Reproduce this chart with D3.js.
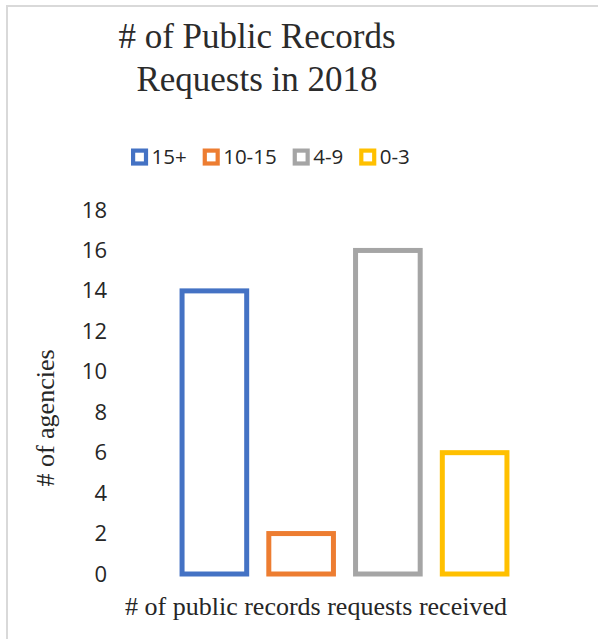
<!DOCTYPE html>
<html>
<head>
<meta charset="utf-8">
<script src="https://cdn.jsdelivr.net/npm/d3@7"></script>
<style>
  html, body { margin: 0; padding: 0; background: #fff; }
  svg { display: block; }
</style>
</head>
<body>
<svg id="chart" width="598" height="639"></svg>
<script>
// Agencies grouped by how many public records requests they received in 2018
const categories = ["15+", "10-15", "4-9", "0-3"];
const agencies = [14, 2, 16, 6];
const colors = ["#4472C4", "#ED7D31", "#A5A5A5", "#FFC000"];
const yTicks = [0, 2, 4, 6, 8, 10, 12, 14, 16, 18];

const svg = d3.select("#chart");
const W = 598, H = 639;
const textColor = "#262626";
const sansFont = "'Open Sans', 'Liberation Sans', sans-serif";
const serifFont = "'Liberation Serif', 'Times New Roman', serif";

// Chart frame
svg.append("rect")
  .attr("x", 7).attr("y", 6)
  .attr("width", W + 10).attr("height", H + 10)
  .attr("fill", "#fff")
  .attr("stroke", "#d9d9d9").attr("stroke-width", 2);

// Title
const title = svg.append("text")
  .attr("text-anchor", "middle")
  .attr("font-family", serifFont)
  .attr("font-size", 35)
  .attr("fill", "#2b2b2b");
title.append("tspan").attr("x", 257).attr("y", 48).text("# of Public Records");
title.append("tspan").attr("x", 257).attr("y", 91).text("Requests in 2018");

// Scales
const x = d3.scaleBand()
  .domain(categories)
  .range([171, 518])
  .paddingInner(0.255)
  .paddingOuter(0.1275);

const y = d3.scaleLinear()
  .domain([0, 18])
  .range([574, 210]);

// Y axis: labels only, no line or ticks
const yAxis = d3.axisLeft(y)
  .tickValues(yTicks)
  .tickSize(0)
  .tickPadding(0);

const yg = svg.append("g")
  .attr("transform", "translate(107,0)")
  .call(yAxis);
yg.select(".domain").remove();
yg.selectAll("text")
  .attr("font-family", sansFont)
  .attr("font-size", 22)
  .attr("fill", textColor);

// Bars: outlined, white fill
const bw = 5;
svg.append("g")
  .selectAll("rect")
  .data(categories)
  .join("rect")
  .attr("x", d => x(d))
  .attr("y", (d, i) => y(agencies[i]))
  .attr("width", x.bandwidth())
  .attr("height", (d, i) => y(0) - y(agencies[i]))
  .attr("fill", "#fff")
  .attr("stroke", (d, i) => colors[i])
  .attr("stroke-width", bw);

// Legend
const legend = svg.append("g")
  .attr("font-family", sansFont)
  .attr("font-size", 20.5)
  .attr("fill", textColor);
let lx = 131;
const ly = 157;
categories.forEach((c, i) => {
  legend.append("rect")
    .attr("x", lx + 2.1).attr("y", ly - 8.5 + 2.1)
    .attr("width", 12.9).attr("height", 12.9)
    .attr("fill", "#fff")
    .attr("stroke", colors[i])
    .attr("stroke-width", 4.2);
  const t = legend.append("text")
    .attr("x", lx + 20.5)
    .attr("y", ly)
    .attr("dy", "0.35em")
    .text(c);
  lx += 20.5 + t.node().getComputedTextLength() + 16;
});

// Axis titles
svg.append("text")
  .attr("transform", "translate(54,418) rotate(-90)")
  .attr("text-anchor", "middle")
  .attr("font-family", serifFont)
  .attr("font-size", 26)
  .attr("fill", textColor)
  .text("# of agencies");

svg.append("text")
  .attr("x", 316)
  .attr("y", 615)
  .attr("text-anchor", "middle")
  .attr("font-family", serifFont)
  .attr("font-size", 26)
  .attr("fill", textColor)
  .text("# of public records requests received");
</script>
</body>
</html>
